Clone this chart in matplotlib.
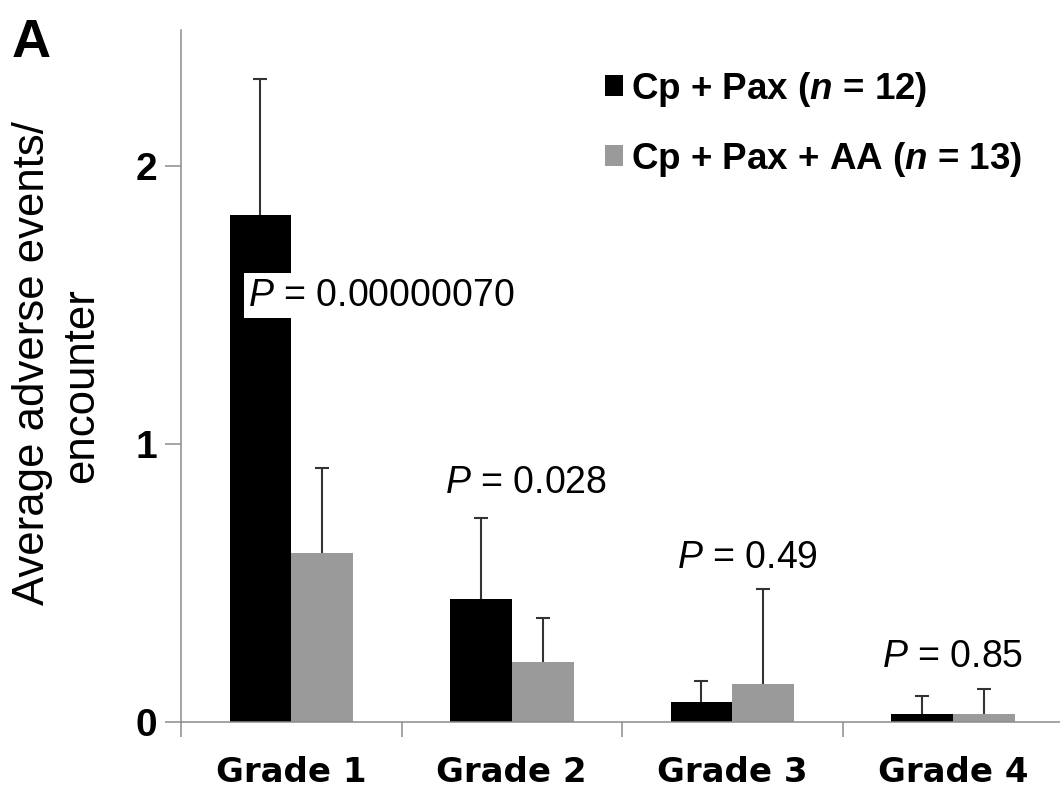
import matplotlib
matplotlib.use("Agg")
import matplotlib.pyplot as plt
import numpy as np

plt.rcParams['mathtext.fontset'] = 'custom'
plt.rcParams['mathtext.rm'] = 'Liberation Sans'
plt.rcParams['mathtext.it'] = 'Liberation Sans:italic'
plt.rcParams['mathtext.bf'] = 'Liberation Sans:bold'
plt.rcParams['mathtext.bfit'] = 'Liberation Sans:bold:italic'
plt.rcParams['font.family'] = ['Liberation Sans', 'DejaVu Sans']

# ---- data ----
categories = ['Grade 1', 'Grade 2', 'Grade 3', 'Grade 4']
cp_pax = [1.825, 0.442, 0.072, 0.028]
cp_pax_err = [0.488, 0.291, 0.073, 0.065]
cp_pax_aa = [0.609, 0.215, 0.136, 0.028]
cp_pax_aa_err = [0.304, 0.159, 0.340, 0.089]
p_values = ['0.00000070', '0.028', '0.49', '0.85']
series_names = [r'Cp + Pax ($\mathbfit{n}$ = 12)', r'Cp + Pax + AA ($\mathbfit{n}$ = 13)']
yticks = [0, 1, 2]

# ---- layout ----
W, H = 1060, 792
fig = plt.figure(figsize=(W / 100, H / 100), dpi=100)
ax = fig.add_axes([181 / W, 1 - 721.7 / H, (W - 181) / W, (721.7 - 30) / H])

grey_axis = '#8c8c8c'
x = np.arange(len(categories))
w = 0.28
ekw = dict(ecolor='#333333', elinewidth=1.5, capsize=5, capthick=1.5, zorder=1)
zeros = np.zeros(len(categories))
b1 = ax.bar(x - w / 2, cp_pax, w, color='black', yerr=[zeros, cp_pax_err],
            error_kw=ekw, label=series_names[0], zorder=2)
b2 = ax.bar(x + w / 2, cp_pax_aa, w, color='#9a9a9a', yerr=[zeros, cp_pax_aa_err],
            error_kw=ekw, label=series_names[1], zorder=2)
# only upper caps are shown
for bc in (b1, b2):
    caps = bc.errorbar.lines[1]
    if len(caps) >= 2:
        caps[0].set_visible(False)

# P-value annotations (left x, baseline y in data units)
p_pos = [(-0.195, 1.498), (0.696, 0.824), (1.751, 0.554), (2.678, 0.197)]
for (px, py), pv in zip(p_pos, p_values):
    t = ax.text(px, py, r'$P$ = ' + pv, fontsize=27, ha='left', va='baseline',
                family='Liberation Sans', zorder=4)
    if pv == p_values[0]:
        t.set_bbox(dict(facecolor='white', edgecolor='none', boxstyle='square,pad=0.12'))

ax.set_xlim(-0.5, 3.486)
ax.set_ylim(0, 2.49)
for s in ['top', 'right']:
    ax.spines[s].set_visible(False)
for s in ['left', 'bottom']:
    ax.spines[s].set_color(grey_axis)
    ax.spines[s].set_linewidth(1.1)

ax.set_xticks(x)
ax.set_xticklabels(categories, fontfamily='DejaVu Sans', fontweight='bold', fontsize=24.5)
ax.set_xticks([-0.5, 0.5, 1.5, 2.5], minor=True)
ax.tick_params(axis='x', which='major', length=0, pad=25)
ax.tick_params(axis='x', which='minor', length=11, width=1.1, color=grey_axis)
ax.set_yticks(yticks)
ax.set_yticklabels([str(v) for v in yticks], fontfamily='Liberation Sans',
                   fontweight='bold', fontsize=28)
ax.tick_params(axis='y', length=11.5, width=1.1, color=grey_axis, pad=5.5)

# y-axis label (two lines)
fig.text(33 / W, 1 - 363 / H, 'Average adverse events/', rotation=90, fontsize=31.5,
         ha='center', va='center', family='Liberation Sans')
fig.text(82 / W, 1 - 386 / H, 'encounter', rotation=90, fontsize=31.5,
         ha='center', va='center', family='Liberation Sans')

# panel letter
fig.text(12 / W, 1 - 57 / H, 'A', fontsize=39, fontweight='bold', ha='left',
         va='baseline', family='Liberation Sans')

leg = ax.legend(handles=[b1, b2], loc='upper left',
                bbox_to_anchor=(605 / W, 1 - 70 / H), bbox_transform=fig.transFigure,
                frameon=False, borderpad=0, borderaxespad=0, handlelength=0.5,
                handleheight=0.5, handletextpad=0.2, labelspacing=0.83,
                prop=dict(family='Liberation Sans', weight='bold', size=26.5))

fig.savefig('out.png', dpi=100)
